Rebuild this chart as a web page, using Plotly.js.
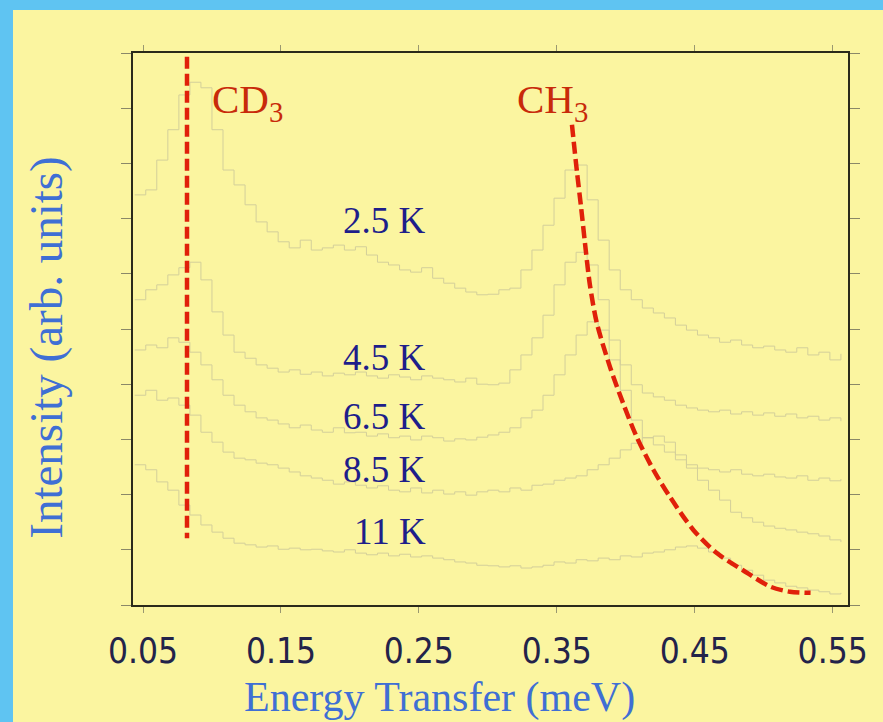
<!DOCTYPE html>
<html>
<head>
<meta charset="utf-8">
<script src="https://cdn.plot.ly/plotly-3.0.1.min.js"></script>
<style>
  html, body { margin: 0; padding: 0; background: #5fc4f2; }
  #frame { position: absolute; left: 13px; top: 10px; width: 870px; height: 712px; background: #fbf5a0; }
  #chart { width: 870px; height: 712px; }
</style>
</head>
<body>
<div id="frame"><div id="chart"></div></div>
<script>
// Energy transfer grid (meV), shared by all spectra
const energy = [0.044, 0.052, 0.060, 0.068, 0.076, 0.084, 0.092, 0.100, 0.108, 0.116,
  0.124, 0.132, 0.140, 0.148, 0.156, 0.164, 0.172, 0.180, 0.188, 0.196,
  0.204, 0.212, 0.220, 0.228, 0.236, 0.244, 0.252, 0.260, 0.268, 0.276,
  0.284, 0.292, 0.300, 0.308, 0.316, 0.324, 0.332, 0.340, 0.348, 0.356,
  0.364, 0.372, 0.380, 0.388, 0.396, 0.404, 0.412, 0.420, 0.428, 0.436,
  0.444, 0.452, 0.460, 0.468, 0.476, 0.484, 0.492, 0.500, 0.508, 0.516,
  0.524, 0.532, 0.540, 0.548, 0.556];

// Intensity (arb. units, vertically offset) at each temperature
const int2p5K = [7.43, 7.52, 8.06, 8.61, 9.24, 9.47, 9.37, 8.61, 7.88, 7.61,
  7.25, 6.94, 6.76, 6.58, 6.47, 6.61, 6.43, 6.47, 6.52, 6.43,
  6.49, 6.34, 6.21, 6.16, 6.07, 6.03, 6.11, 5.92, 5.83, 5.74,
  5.67, 5.62, 5.63, 5.71, 5.74, 6.07, 6.43, 6.88, 7.37, 7.88,
  7.97, 7.34, 6.61, 6.07, 5.71, 5.53, 5.38, 5.29, 5.20, 5.07,
  4.98, 4.89, 4.84, 4.76, 4.80, 4.71, 4.66, 4.69, 4.62, 4.58,
  4.66, 4.53, 4.58, 4.44, 4.55];
const int4p5K = [5.53, 5.71, 5.80, 5.98, 6.11, 6.21, 5.89, 5.31, 4.89, 4.58,
  4.47, 4.35, 4.29, 4.22, 4.26, 4.18, 4.22, 4.15, 4.20, 4.17,
  4.22, 4.15, 4.11, 4.17, 4.13, 4.08, 4.15, 4.11, 4.08, 4.04,
  4.11, 4.00, 3.99, 4.02, 4.26, 4.53, 4.84, 5.25, 5.80, 6.21,
  6.39, 6.16, 5.53, 4.80, 4.35, 3.99, 3.84, 3.77, 3.71, 3.62,
  3.57, 3.53, 3.50, 3.53, 3.46, 3.50, 3.44, 3.48, 3.42, 3.46,
  3.39, 3.42, 3.35, 3.39, 3.33];
const int6p5K = [4.62, 4.71, 4.66, 4.84, 4.76, 4.58, 4.35, 4.08, 3.80, 3.62,
  3.50, 3.39, 3.35, 3.28, 3.21, 3.26, 3.17, 3.13, 3.21, 3.12,
  3.13, 3.06, 3.10, 3.03, 3.06, 2.99, 3.06, 3.03, 2.97, 3.01,
  2.99, 3.04, 3.08, 3.13, 3.21, 3.39, 3.53, 3.80, 4.17, 4.53,
  4.89, 5.13, 4.98, 4.44, 3.89, 3.35, 3.03, 2.90, 2.77, 2.63,
  2.54, 2.48, 2.45, 2.41, 2.45, 2.37, 2.34, 2.37, 2.32, 2.30,
  2.34, 2.26, 2.30, 2.25, 2.28];
const int8p5K = [3.80, 3.89, 3.71, 3.75, 3.62, 3.44, 3.13, 2.95, 2.77, 2.66,
  2.63, 2.57, 2.54, 2.48, 2.41, 2.34, 2.30, 2.26, 2.19, 2.23,
  2.17, 2.12, 2.16, 2.08, 2.05, 2.12, 2.03, 2.08, 2.01, 2.05,
  1.99, 2.05, 2.08, 2.05, 2.12, 2.08, 2.17, 2.19, 2.26, 2.30,
  2.34, 2.45, 2.54, 2.66, 2.81, 2.93, 3.03, 3.06, 2.95, 2.72,
  2.48, 2.26, 2.08, 1.90, 1.68, 1.58, 1.50, 1.43, 1.39, 1.36,
  1.32, 1.29, 1.25, 1.18, 1.14];
const int11K = [2.54, 2.45, 2.23, 2.08, 1.81, 1.63, 1.45, 1.32, 1.21, 1.12,
  1.09, 1.05, 1.07, 1.01, 1.03, 1.00, 1.01, 0.98, 0.96, 1.00,
  0.94, 0.91, 0.94, 0.89, 0.92, 0.87, 0.89, 0.85, 0.82, 0.78,
  0.76, 0.72, 0.71, 0.69, 0.71, 0.67, 0.69, 0.72, 0.78, 0.76,
  0.82, 0.80, 0.85, 0.82, 0.89, 0.87, 0.94, 0.96, 1.00, 1.05,
  1.07, 1.03, 0.96, 0.85, 0.72, 0.63, 0.54, 0.45, 0.40, 0.34,
  0.31, 0.27, 0.24, 0.20, 0.22];

// Temperature labels and where they sit
const tempLabels = ['2.5 K', '4.5 K', '6.5 K', '8.5 K', '11 K'];
const tempLabelY = [6.97, 4.49, 3.41, 2.45, 1.34];
const tempLabelX = 0.2566;

// CD3 tunnelling line (fixed energy) and CH3 peak shift with temperature
const cd3Energy = [0.0819, 0.0819];
const cd3Level = [9.93, 1.21];
const ch3Energy = [0.361, 0.3647, 0.3676, 0.3712, 0.374, 0.379, 0.3886, 0.398, 0.408,
  0.420, 0.432, 0.449, 0.466, 0.485, 0.505, 0.519, 0.534];
const ch3Level = [8.70, 7.83, 7.21, 6.38, 5.80, 5.11, 4.31, 3.66, 3.04,
  2.45, 1.96, 1.36, 0.94, 0.63, 0.33, 0.24, 0.22];

const xTickVals = [0.05, 0.15, 0.25, 0.35, 0.45, 0.55];
const xTickText = ['0.05', '0.15', '0.25', '0.35', '0.45', '0.55'];

const spectra = [int2p5K, int4p5K, int6p5K, int8p5K, int11K];
const specColor = '#d3cf9a';

const traces = spectra.map((ys, i) => ({
  x: energy, y: ys, type: 'scatter', mode: 'lines', name: tempLabels[i],
  line: {shape: 'hv', color: specColor, width: 1},
  hoverinfo: 'skip'
}));

const red = '#e0200a';
traces.push({
  x: cd3Energy, y: cd3Level, type: 'scatter', mode: 'lines', name: 'CD3',
  line: {color: red, width: 4.5, dash: '12px,5px'}
});
traces.push({
  x: ch3Energy, y: ch3Level, type: 'scatter', mode: 'lines', name: 'CH3',
  line: {color: red, width: 4.5, dash: '12px,5px', shape: 'spline', smoothing: 0.8}
});

const serif = '"Liberation Serif", "Times New Roman", serif';
const annotations = tempLabels.map((t, i) => ({
  text: t, x: tempLabelX, y: tempLabelY[i], xref: 'x', yref: 'y',
  xanchor: 'right', yanchor: 'middle', showarrow: false,
  font: {family: serif, size: 37, color: '#1e1e8a'}
}));
annotations.push(
  {text: 'CD<sub>3</sub>', x: 0.0986, y: 9.12, xref: 'x', yref: 'y', xanchor: 'left', yanchor: 'middle',
   showarrow: false, font: {family: serif, size: 41, color: '#c82a0a'}},
  {text: 'CH<sub>3</sub>', x: 0.3197, y: 9.12, xref: 'x', yref: 'y', xanchor: 'left', yanchor: 'middle',
   showarrow: false, font: {family: serif, size: 41, color: '#c82a0a'}},
  {text: 'Energy Transfer (meV)', x: 0.429, y: -0.168, xref: 'paper', yref: 'paper',
   xanchor: 'center', yanchor: 'middle', showarrow: false,
   font: {family: serif, size: 42, color: '#3f6fd4'}},
  {text: 'Intensity (arb. units)', x: -0.121, y: 0.467, xref: 'paper', yref: 'paper',
   xanchor: 'center', yanchor: 'middle', textangle: -90, showarrow: false,
   font: {family: serif, size: 47, color: '#3f6fd4'}}
);

const layout = {
  width: 870, height: 712,
  margin: {l: 120, r: 35, t: 43, b: 117},
  paper_bgcolor: '#fbf5a0', plot_bgcolor: '#fbf5a0',
  showlegend: false,
  xaxis: {
    range: [0.04275, 0.56113], tickvals: xTickVals, ticktext: xTickText,
    showgrid: false, zeroline: false, showline: true, linecolor: '#2a2a1a', linewidth: 2,
    mirror: 'ticks', ticks: 'outside', ticklen: 6, tickcolor: '#9a9870', tickwidth: 1,
    ticklabelstandoff: 8,
    tickfont: {family: '"Liberation Sans Narrow", "DejaVu Sans Condensed", sans-serif', size: 35, color: '#23234a'}
  },
  yaxis: {
    range: [0, 10], dtick: 1, showticklabels: false,
    showgrid: false, zeroline: false, showline: true, linecolor: '#2a2a1a', linewidth: 2,
    mirror: 'ticks', ticks: 'outside', ticklen: 10, tickcolor: '#8a8868', tickwidth: 1
  },
  annotations: annotations
};

Plotly.newPlot('chart', traces, layout, {staticPlot: true, displayModeBar: false});
</script>
</body>
</html>
